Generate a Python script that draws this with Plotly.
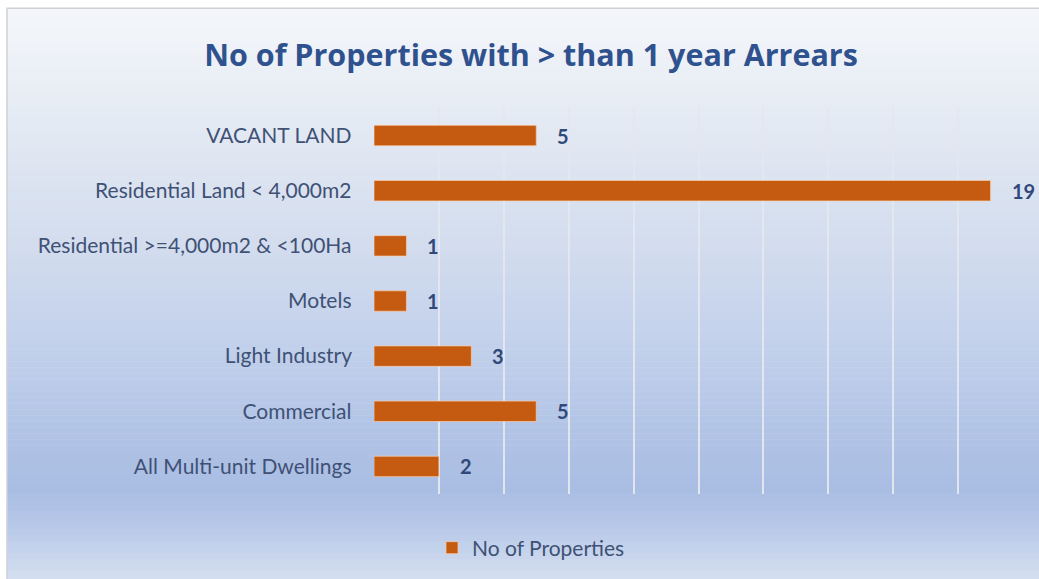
import plotly.graph_objects as go

# Data
categories = [
    "All Multi-unit Dwellings",
    "Commercial",
    "Light Industry",
    "Motels",
    "Residential >=4,000m2 & <100Ha",
    "Residential Land < 4,000m2",
    "VACANT LAND",
]
counts = [2, 5, 3, 1, 1, 19, 5]
series_name = "No of Properties"
title_text = "No of Properties with > than 1 year Arrears"
x_ticks = [0, 2, 4, 6, 8, 10, 12, 14, 16, 18, 20]

# Style
FONT = "Lato"
TITLE_FONT = "Open Sans"
BAR_COLOR = "#C55A11"
TITLE_COLOR = "#2F528F"
LABEL_COLOR = "#3F5175"
VALUE_COLOR = "#30497A"

W, H = 1039, 579
L, R, T, B = 374, 16, 108, 84
PW, PH = W - L - R, H - T - B


def px_to_paper_x(px):
    return (px - L) / PW


def px_to_paper_y(py):
    return (H - B - py) / PH


# vertical background gradient stops (pixel row, rgb)
grad_stops = [
    (8, (244, 246, 250)),
    (60, (237, 241, 247)),
    (150, (224, 231, 242)),
    (250, (210, 220, 238)),
    (350, (193, 208, 235)),
    (430, (178, 196, 230)),
    (490, (169, 189, 227)),
    (525, (182, 199, 232)),
    (579, (212, 223, 241)),
]


def grad_color(py):
    for (y0, c0), (y1, c1) in zip(grad_stops, grad_stops[1:]):
        if y0 <= py <= y1:
            t = (py - y0) / (y1 - y0)
            return "rgb(%d,%d,%d)" % tuple(round(a + (b - a) * t) for a, b in zip(c0, c1))
    return "rgb(%d,%d,%d)" % grad_stops[-1][1]


shapes = []
band = 6
top = 8
while top < H:
    bot = min(top + band, H + 2)
    shapes.append(dict(
        type="rect", xref="paper", yref="paper", layer="below",
        x0=px_to_paper_x(7), x1=px_to_paper_x(W + 5),
        y0=px_to_paper_y(bot + 0.5), y1=px_to_paper_y(top),
        fillcolor=grad_color(top + band / 2), line=dict(width=0),
    ))
    top += band

# chart frame
shapes.append(dict(
    type="rect", xref="paper", yref="paper", layer="below",
    x0=px_to_paper_x(7), x1=px_to_paper_x(W + 5),
    y0=px_to_paper_y(H + 5), y1=px_to_paper_y(8),
    fillcolor="rgba(0,0,0,0)", line=dict(color="#CDD1D8", width=1.5),
))

fig = go.Figure()
fig.add_trace(go.Bar(
    y=categories, x=counts, orientation="h", name=series_name,
    marker=dict(color=BAR_COLOR, line=dict(color="rgba(250,205,170,0.7)", width=1)),
    width=0.37,
))

annotations = [
    dict(x=v, y=c, xref="x", yref="y", text="<b>%d</b>" % v, showarrow=False,
         xanchor="left", xshift=19, font=dict(family=FONT, size=20, color=VALUE_COLOR))
    for c, v in zip(categories, counts)
]

fig.update_layout(
    width=W, height=H,
    margin=dict(l=L, r=R, t=T, b=B, pad=0),
    paper_bgcolor="white", plot_bgcolor="rgba(0,0,0,0)",
    title=dict(text="<b>%s</b>" % title_text, x=px_to_paper_x(531), xref="paper",
               xanchor="center", y=1 - 55 / H, yanchor="middle",
               font=dict(family=TITLE_FONT, size=30.5, color=TITLE_COLOR)),
    xaxis=dict(range=[0, 20], tickvals=x_ticks, showticklabels=False,
               showgrid=True, gridcolor="rgba(228,231,238,0.95)", gridwidth=1.5,
               zeroline=False, showline=False, fixedrange=True),
    yaxis=dict(showgrid=False, zeroline=False, showline=False, ticks="",
               ticksuffix="    ", tickfont=dict(family=FONT, size=21, color=LABEL_COLOR),
               fixedrange=True),
    bargap=0.63,
    showlegend=True,
    legend=dict(orientation="h", x=px_to_paper_x(531), xanchor="center",
                y=px_to_paper_y(548), yanchor="middle",
                font=dict(family=FONT, size=21, color=LABEL_COLOR),
                bgcolor="rgba(0,0,0,0)", itemwidth=30),
    shapes=shapes,
    annotations=annotations,
)

fig.write_html("out.html")
